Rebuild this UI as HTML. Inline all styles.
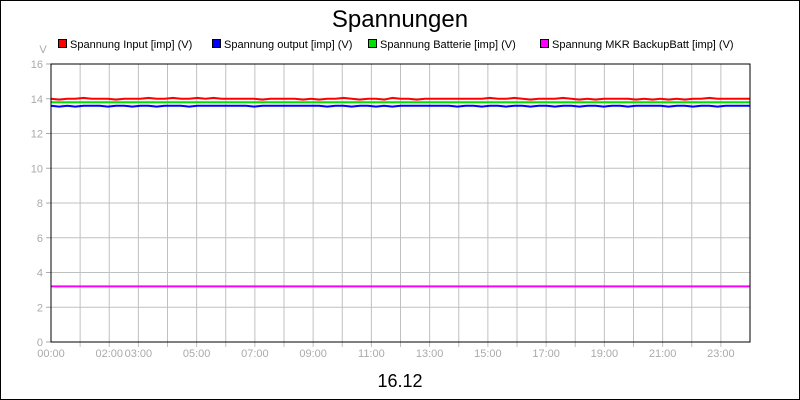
<!DOCTYPE html>
<html><head><meta charset="utf-8">
<style>
html,body{margin:0;padding:0;background:#fff;}
svg{display:block;font-family:"Liberation Sans",sans-serif;}
</style></head>
<body>
<svg id="chart" width="800" height="400">
<rect x="0.5" y="0.5" width="799" height="399" fill="#fff" stroke="#000"/>
<text x="400" y="27" font-size="24" text-anchor="middle">Spannungen</text>
<text x="400" y="387" font-size="18" text-anchor="middle">16.12</text>
<text x="43" y="53" font-size="11" fill="#aaa" text-anchor="middle">V</text>
<g id="legend"></g>
<g id="grid"></g>
<g id="series"></g>
<g id="axes"></g>
</svg>
<script>
const yTicks=[0,2,4,6,8,10,12,14,16];
const xTickLabels=["00:00","02:00","03:00","05:00","07:00","09:00","11:00","13:00","15:00","17:00","19:00","21:00","23:00"];
const xTickHours=[0,2,3,5,7,9,11,13,15,17,19,21,23];
const seriesNames=["Spannung Input [imp] (V)","Spannung output [imp] (V)","Spannung Batterie [imp] (V)","Spannung MKR BackupBatt [imp] (V)"];
const inputV=[14.0,13.95,14.0,14.0,14.05,14.0,14.0,14.0,13.95,14.0,14.0,14.0,14.05,14.0,14.0,14.05,14.0,14.0,14.05,14.0,14.05,14.0,14.0,14.0,14.0,14.0,13.95,14.0,14.0,14.0,14.0,13.95,14.0,13.95,14.0,14.0,14.05,14.0,13.95,14.0,14.0,13.95,14.05,14.0,14.0,13.95,14.0,14.0,14.0,14.0,14.0,14.0,14.0,14.0,14.05,14.0,14.0,14.05,14.0,13.95,14.0,14.0,14.0,14.05,14.0,13.95,14.0,13.95,14.0,14.0,14.0,14.0,13.95,14.0,13.95,14.0,13.95,14.0,13.95,14.0,14.0,14.05,14.0,14.0,14.0,14.0,14.0];
const outputV=[13.6,13.55,13.6,13.55,13.6,13.6,13.6,13.55,13.6,13.6,13.55,13.6,13.6,13.55,13.6,13.6,13.6,13.55,13.6,13.6,13.6,13.6,13.6,13.6,13.6,13.55,13.6,13.6,13.6,13.6,13.6,13.6,13.6,13.6,13.55,13.6,13.6,13.55,13.6,13.6,13.55,13.6,13.55,13.6,13.6,13.6,13.6,13.6,13.6,13.6,13.55,13.6,13.6,13.55,13.6,13.6,13.55,13.6,13.6,13.55,13.6,13.6,13.55,13.6,13.6,13.55,13.6,13.6,13.55,13.6,13.6,13.55,13.6,13.6,13.6,13.6,13.55,13.6,13.6,13.55,13.6,13.6,13.55,13.6,13.6,13.6,13.6];
const batteryV=[13.8,13.8,13.8,13.8,13.8,13.8,13.8,13.8,13.8,13.8,13.8,13.8];
const backupV=[3.2,3.2,3.2,3.2,3.2,3.2,3.2,3.2,3.2,3.2,3.2,3.2];
const colors=["#ff0000","#0000ff","#00e000","#ff00ff"];
const NS="http://www.w3.org/2000/svg";
const X0=51,X1=750,Y0=342,Y1=64;
function xs(h){return X0+h*(X1-X0)/24;}
function ys(v){return Y0-v*(Y0-Y1)/16;}
function mk(t,a,p){const e=document.createElementNS(NS,t);for(const k in a)e.setAttribute(k,a[k]);p.appendChild(e);return e;}
const grid=document.getElementById('grid'),axes=document.getElementById('axes'),ser=document.getElementById('series'),leg=document.getElementById('legend');
for(let h=1;h<24;h++){const l=mk('line',{x1:xs(h),x2:xs(h),y1:Y1,y2:Y0+5,stroke:'#c0c0c0'},grid);

}
yTicks.forEach(v=>{if(v>0&&v<16){const l=mk('line',{x1:X0,x2:X1,y1:ys(v),y2:ys(v),stroke:'#c0c0c0'},grid);

}
const tk=mk('line',{x1:X0-5,x2:X0,y1:ys(v),y2:ys(v),stroke:'#aaa'},axes);


const t=mk('text',{x:X0-8,y:ys(v)+4,'font-size':11,fill:'#aaa','text-anchor':'end'},axes);t.textContent=v;

});
xTickHours.forEach((h,i)=>{const t=mk('text',{x:xs(h),y:Y0+15,'font-size':11,fill:'#aaa','text-anchor':'middle'},axes);t.textContent=xTickLabels[i];

});
function drawSeries(arr,c,name){const n=arr.length;const pts=arr.map((v,i)=>xs(i*24/(n-1)).toFixed(1)+','+ys(v).toFixed(1)).join(' ');
const p=mk('polyline',{points:pts,fill:'none',stroke:c,'stroke-width':2},ser);

}
drawSeries(backupV,colors[3],'series-backup-batt');
drawSeries(outputV,colors[1],'series-output');
drawSeries(batteryV,colors[2],'series-batterie');
drawSeries(inputV,colors[0],'series-input');
const fr=mk('rect',{x:X0,y:Y1,width:X1-X0,height:Y0-Y1,fill:'none',stroke:'#000'},axes);


const legX=[58,212,368,540];
seriesNames.forEach((s,i)=>{const g=mk('g',{},leg);


mk('rect',{x:legX[i]+0.5,y:39.5,width:8,height:8,fill:colors[i],stroke:'#000'},g);
const t=mk('text',{x:legX[i]+12,y:48,'font-size':11},g);t.textContent=s;});
</script>
</body></html>
